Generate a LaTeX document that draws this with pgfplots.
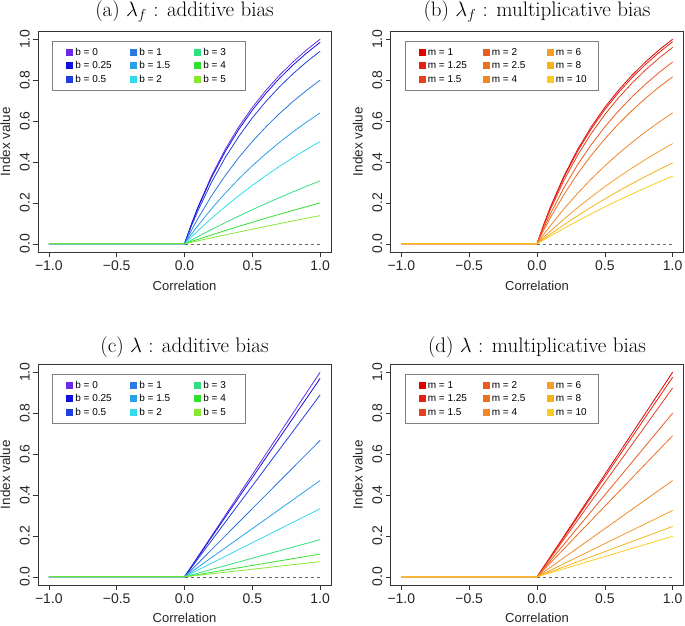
\documentclass[border=0pt]{standalone}
\usepackage{pgfplots}
\pgfplotsset{compat=1.18}
\usepackage{pgfplotstable}
\usepackage{fontspec}
\newfontfamily\rsans{Liberation Sans}

\definecolor{ca0}{HTML}{6A2AE6}
\definecolor{ca1}{HTML}{1010E0}
\definecolor{ca2}{HTML}{1E40E0}
\definecolor{ca3}{HTML}{2A78E0}
\definecolor{ca4}{HTML}{2AA0E6}
\definecolor{ca5}{HTML}{30DCEC}
\definecolor{ca6}{HTML}{30E080}
\definecolor{ca7}{HTML}{30E030}
\definecolor{ca8}{HTML}{88E830}
\definecolor{cm0}{HTML}{E00000}
\definecolor{cm1}{HTML}{E62010}
\definecolor{cm2}{HTML}{E8401E}
\definecolor{cm3}{HTML}{EA5A22}
\definecolor{cm4}{HTML}{EC6E20}
\definecolor{cm5}{HTML}{F0882A}
\definecolor{cm6}{HTML}{F29E28}
\definecolor{cm7}{HTML}{F5B416}
\definecolor{cm8}{HTML}{F8CC1E}

\pgfplotstableread{
r     s0     s1     s2     s3     s4     s5     s6     s7     s8
-1    0      0      0      0      0      0      0      0      0
0     0      0      0      0      0      0      0      0      0
0.05  0.0952 0.0925 0.0851 0.0645 0.0460 0.0328 0.0180 0.0110 0.0074
0.1   0.1818 0.1768 0.1633 0.1250 0.0899 0.0645 0.0357 0.0220 0.0147
0.2   0.3333 0.3249 0.3019 0.2353 0.1720 0.1250 0.0702 0.0435 0.0292
0.3   0.4615 0.4507 0.4211 0.3333 0.2474 0.1818 0.1034 0.0645 0.0435
0.4   0.5714 0.5590 0.5246 0.4211 0.3168 0.2353 0.1356 0.0851 0.0576
0.5   0.6667 0.6531 0.6154 0.5000 0.3810 0.2857 0.1667 0.1053 0.0714
0.6   0.7500 0.7356 0.6957 0.5714 0.4404 0.3333 0.1967 0.1250 0.0851
0.7   0.8235 0.8087 0.7671 0.6364 0.4956 0.3784 0.2258 0.1443 0.0986
0.8   0.8889 0.8737 0.8312 0.6957 0.5470 0.4211 0.2540 0.1633 0.1119
0.9   0.9474 0.9320 0.8889 0.7500 0.5950 0.4615 0.2813 0.1818 0.1250
1.0   1.0000 0.9846 0.9412 0.8000 0.6400 0.5000 0.3077 0.2000 0.1379
}\tabA

\pgfplotstableread{
r     s0     s1     s2     s3     s4     s5     s6     s7     s8
-1    0      0      0      0      0      0      0      0      0
0     0      0      0      0      0      0      0      0      0
0.05  0.0952 0.0930 0.0882 0.0769 0.0667 0.0460 0.0319 0.0243 0.0196
0.1   0.1818 0.1778 0.1690 0.1481 0.1290 0.0899 0.0628 0.0480 0.0388
0.2   0.3333 0.3265 0.3117 0.2759 0.2424 0.1720 0.1218 0.0938 0.0762
0.3   0.4615 0.4528 0.4337 0.3871 0.3429 0.2474 0.1773 0.1375 0.1121
0.4   0.5714 0.5614 0.5393 0.4848 0.4324 0.3168 0.2297 0.1793 0.1468
0.5   0.6667 0.6557 0.6316 0.5714 0.5128 0.3810 0.2791 0.2192 0.1802
0.6   0.7500 0.7385 0.7129 0.6486 0.5854 0.4404 0.3258 0.2574 0.2124
0.7   0.8235 0.8116 0.7850 0.7179 0.6512 0.4956 0.3700 0.2940 0.2435
0.8   0.8889 0.8767 0.8496 0.7805 0.7111 0.5470 0.4120 0.3290 0.2735
0.9   0.9474 0.9351 0.9076 0.8372 0.7660 0.5950 0.4519 0.3627 0.3025
1.0   1.0000 0.9877 0.9600 0.8889 0.8163 0.6400 0.4898 0.3951 0.3306
}\tabB

\pgfplotstableread{
r     s0     s1     s2     s3     s4     s5     s6     s7     s8
-1    0      0      0      0      0      0      0      0      0
0     0      0      0      0      0      0      0      0      0
1     1.0000 0.9697 0.8889 0.6667 0.4706 0.3333 0.1818 0.1111 0.0741
}\tabC

\pgfplotstableread{
r     s0     s1     s2     s3     s4     s5     s6     s7     s8
-1    0      0      0      0      0      0      0      0      0
0     0      0      0      0      0      0      0      0      0
1     1.0000 0.9756 0.9231 0.8000 0.6897 0.4706 0.3243 0.2462 0.1980
}\tabD

\newcommand{\lgA}[1]{\makebox[53pt][l]{#1}}
\newcommand{\lgC}[1]{\makebox[26pt][l]{#1}}

\pgfplotsset{
 panel/.style={
  scale only axis, width=293pt, height=221pt,
  xmin=-1.08, xmax=1.08, ymin=-0.04, ymax=1.04,
  xtick={-1,-0.5,0,0.5,1}, xticklabels={−1.0,−0.5,0.0,0.5,1.0},
  ytick={0,0.2,0.4,0.6,0.8,1}, yticklabels={0.0,0.2,0.4,0.6,0.8,1.0},
  tick pos=left, tick align=outside, major tick length=5pt,
  ticklabel style={font=\rsans\fontsize{14}{16}\selectfont, text=black!85},
  yticklabel style={rotate=90, anchor=south, inner ysep=3pt},
  xlabel=Correlation, ylabel=Index value,
  every axis x label/.style={at={(axis description cs:0.5,-0.155)}, anchor=center,
     font=\rsans\fontsize{13}{15}\selectfont, text=black!85},
  every axis y label/.style={at={(axis description cs:-0.112,0.5)}, rotate=90, anchor=center,
     font=\rsans\fontsize{13.5}{15}\selectfont, text=black!85},
  axis line style={black!80, line width=0.6pt},
  every tick/.style={black!80, line width=0.6pt},
  legend columns=3,
  legend cell align=left,
  legend style={at={(0.048,0.955)}, anchor=north west, draw=black!50, line width=0.6pt,
    font=\rsans\fontsize{10}{12}\selectfont, inner xsep=14pt, inner ysep=4.5pt,
    nodes={inner ysep=2.25pt, text height=7.5pt, text depth=1.5pt}},
  legend image code/.code={\fill[##1, draw=none] (0pt,-3.5pt) rectangle (7pt,3.5pt);},
  every axis plot/.append style={line width=0.8pt},
 },
 toptitle/.style={every axis title/.style={at={(axis description cs:0.5,1.088)}, anchor=center,
     font=\fontsize{21}{24}\selectfont}},
 bottitle/.style={every axis title/.style={at={(axis description cs:0.5,1.078)}, anchor=center,
     font=\fontsize{21}{24}\selectfont},
     every axis x label/.style={at={(axis description cs:0.5,-0.148)}, anchor=center,
     font=\rsans\fontsize{13}{15}\selectfont, text=black!85}},
}

\begin{document}
\begin{tikzpicture}
\path[use as bounding box] (0pt,0pt) rectangle (685pt,625pt);

% (a)
\begin{axis}[panel, toptitle, at={(38pt,373pt)}, anchor=south west, title={(a) $\lambda_f$ : additive bias}]
\addplot[forget plot, black!60, dashed, line width=0.6pt] coordinates {(0,0) (1,0)};
\addplot[forget plot, ca0] table[x=r, y=s0] {\tabA};
\addplot[forget plot, ca1] table[x=r, y=s1] {\tabA};
\addplot[forget plot, ca2] table[x=r, y=s2] {\tabA};
\addplot[forget plot, ca3] table[x=r, y=s3] {\tabA};
\addplot[forget plot, ca4] table[x=r, y=s4] {\tabA};
\addplot[forget plot, ca5] table[x=r, y=s5] {\tabA};
\addplot[forget plot, ca6] table[x=r, y=s6] {\tabA};
\addplot[forget plot, ca7] table[x=r, y=s7] {\tabA};
\addplot[forget plot, ca8] table[x=r, y=s8] {\tabA};
\addlegendimage{fill=ca0}\addlegendentry{\lgA{b = 0}}
\addlegendimage{fill=ca3}\addlegendentry{\lgA{b = 1}}
\addlegendimage{fill=ca6}\addlegendentry{\lgC{b = 3}}
\addlegendimage{fill=ca1}\addlegendentry{\lgA{b = 0.25}}
\addlegendimage{fill=ca4}\addlegendentry{\lgA{b = 1.5}}
\addlegendimage{fill=ca7}\addlegendentry{\lgC{b = 4}}
\addlegendimage{fill=ca2}\addlegendentry{\lgA{b = 0.5}}
\addlegendimage{fill=ca5}\addlegendentry{\lgA{b = 2}}
\addlegendimage{fill=ca8}\addlegendentry{\lgC{b = 5}}
\end{axis}

% (b)
\begin{axis}[panel, toptitle, at={(390.5pt,373pt)}, anchor=south west, title={(b) $\lambda_f$ : multiplicative bias}]
\addplot[forget plot, black!60, dashed, line width=0.6pt] coordinates {(0,0) (1,0)};
\addplot[forget plot, cm0] table[x=r, y=s0] {\tabB};
\addplot[forget plot, cm1] table[x=r, y=s1] {\tabB};
\addplot[forget plot, cm2] table[x=r, y=s2] {\tabB};
\addplot[forget plot, cm3] table[x=r, y=s3] {\tabB};
\addplot[forget plot, cm4] table[x=r, y=s4] {\tabB};
\addplot[forget plot, cm5] table[x=r, y=s5] {\tabB};
\addplot[forget plot, cm6] table[x=r, y=s6] {\tabB};
\addplot[forget plot, cm7] table[x=r, y=s7] {\tabB};
\addplot[forget plot, cm8] table[x=r, y=s8] {\tabB};
\addlegendimage{fill=cm0}\addlegendentry{\lgA{m = 1}}
\addlegendimage{fill=cm3}\addlegendentry{\lgA{m = 2}}
\addlegendimage{fill=cm6}\addlegendentry{\lgC{m = 6}}
\addlegendimage{fill=cm1}\addlegendentry{\lgA{m = 1.25}}
\addlegendimage{fill=cm4}\addlegendentry{\lgA{m = 2.5}}
\addlegendimage{fill=cm7}\addlegendentry{\lgC{m = 8}}
\addlegendimage{fill=cm2}\addlegendentry{\lgA{m = 1.5}}
\addlegendimage{fill=cm5}\addlegendentry{\lgA{m = 4}}
\addlegendimage{fill=cm8}\addlegendentry{\lgC{m = 10}}
\end{axis}

% (c)
\begin{axis}[panel, bottitle, at={(38pt,40pt)}, anchor=south west, title={(c) $\lambda$ : additive bias}]
\addplot[forget plot, black!60, dashed, line width=0.6pt] coordinates {(0,0) (1,0)};
\addplot[forget plot, ca0] table[x=r, y=s0] {\tabC};
\addplot[forget plot, ca1] table[x=r, y=s1] {\tabC};
\addplot[forget plot, ca2] table[x=r, y=s2] {\tabC};
\addplot[forget plot, ca3] table[x=r, y=s3] {\tabC};
\addplot[forget plot, ca4] table[x=r, y=s4] {\tabC};
\addplot[forget plot, ca5] table[x=r, y=s5] {\tabC};
\addplot[forget plot, ca6] table[x=r, y=s6] {\tabC};
\addplot[forget plot, ca7] table[x=r, y=s7] {\tabC};
\addplot[forget plot, ca8] table[x=r, y=s8] {\tabC};
\addlegendimage{fill=ca0}\addlegendentry{\lgA{b = 0}}
\addlegendimage{fill=ca3}\addlegendentry{\lgA{b = 1}}
\addlegendimage{fill=ca6}\addlegendentry{\lgC{b = 3}}
\addlegendimage{fill=ca1}\addlegendentry{\lgA{b = 0.25}}
\addlegendimage{fill=ca4}\addlegendentry{\lgA{b = 1.5}}
\addlegendimage{fill=ca7}\addlegendentry{\lgC{b = 4}}
\addlegendimage{fill=ca2}\addlegendentry{\lgA{b = 0.5}}
\addlegendimage{fill=ca5}\addlegendentry{\lgA{b = 2}}
\addlegendimage{fill=ca8}\addlegendentry{\lgC{b = 5}}
\end{axis}

% (d)
\begin{axis}[panel, bottitle, at={(390.5pt,40pt)}, anchor=south west, title={(d) $\lambda$ : multiplicative bias}]
\addplot[forget plot, black!60, dashed, line width=0.6pt] coordinates {(0,0) (1,0)};
\addplot[forget plot, cm0] table[x=r, y=s0] {\tabD};
\addplot[forget plot, cm1] table[x=r, y=s1] {\tabD};
\addplot[forget plot, cm2] table[x=r, y=s2] {\tabD};
\addplot[forget plot, cm3] table[x=r, y=s3] {\tabD};
\addplot[forget plot, cm4] table[x=r, y=s4] {\tabD};
\addplot[forget plot, cm5] table[x=r, y=s5] {\tabD};
\addplot[forget plot, cm6] table[x=r, y=s6] {\tabD};
\addplot[forget plot, cm7] table[x=r, y=s7] {\tabD};
\addplot[forget plot, cm8] table[x=r, y=s8] {\tabD};
\addlegendimage{fill=cm0}\addlegendentry{\lgA{m = 1}}
\addlegendimage{fill=cm3}\addlegendentry{\lgA{m = 2}}
\addlegendimage{fill=cm6}\addlegendentry{\lgC{m = 6}}
\addlegendimage{fill=cm1}\addlegendentry{\lgA{m = 1.25}}
\addlegendimage{fill=cm4}\addlegendentry{\lgA{m = 2.5}}
\addlegendimage{fill=cm7}\addlegendentry{\lgC{m = 8}}
\addlegendimage{fill=cm2}\addlegendentry{\lgA{m = 1.5}}
\addlegendimage{fill=cm5}\addlegendentry{\lgA{m = 4}}
\addlegendimage{fill=cm8}\addlegendentry{\lgC{m = 10}}
\end{axis}
\end{tikzpicture}
\end{document}
